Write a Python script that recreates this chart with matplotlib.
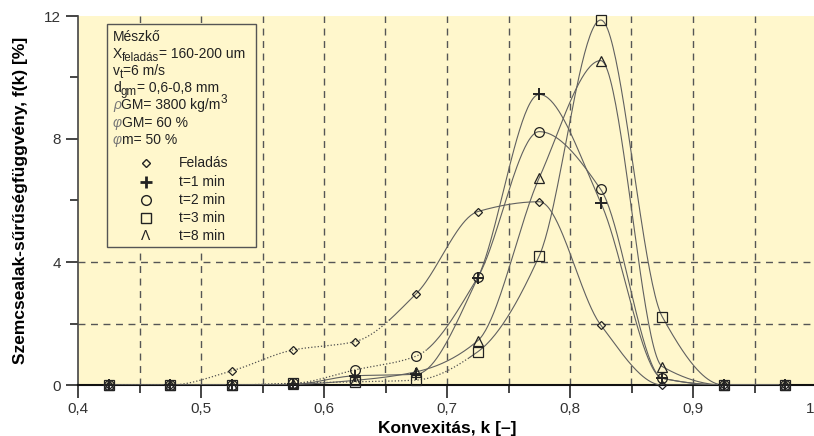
import numpy as np
import matplotlib
matplotlib.use("Agg")
import matplotlib.pyplot as plt
from matplotlib.patches import Rectangle
from matplotlib.ticker import MultipleLocator, FuncFormatter

plt.rcParams['font.family'] = ['Liberation Sans', 'DejaVu Sans']

# convexity class centres
k = [0.425, 0.475, 0.525, 0.575, 0.625, 0.675, 0.725, 0.775, 0.825, 0.875, 0.925, 0.975]

feladas = [0.0, 0.0, 0.46, 1.14, 1.41, 2.97, 5.64, 5.96, 1.95, 0.0, 0.0, 0.0]
t1 = [0.0, 0.0, 0.0, 0.02, 0.3, 0.35, 3.48, 9.45, 5.93, 0.22, 0.0, 0.0]
t2 = [0.0, 0.0, 0.0, 0.05, 0.49, 0.94, 3.5, 8.24, 6.36, 0.22, 0.0, 0.0]
t3 = [0.0, 0.0, 0.0, 0.06, 0.1, 0.16, 1.08, 4.2, 11.87, 2.22, 0.0, 0.0]
t8 = [0.0, 0.0, 0.0, 0.02, 0.15, 0.43, 1.44, 6.74, 10.55, 0.6, 0.0, 0.0]

# (values, marker, size, label, curve drawn dotted left of this k)
series = [
    (feladas, 'D', 4.5, 'Feladás', 0.655),
    (t1, '+', 8, 't=1 min', None),
    (t2, 'o', 7, 't=2 min', 0.685),
    (t3, 's', 7, 't=3 min', 0.72),
    (t8, '^', 7, 't=8 min', None),
]

# info rows: list of (text, kind) pieces; kind: n=normal, sub, sup, g=greek
info = [
    [('Mészkő', 'n')],
    [('X', 'n'), ('feladás', 'sub'), ('= 160-200 um', 'n')],
    [('v', 'n'), ('t', 'sub'), ('=6 m/s', 'n')],
    [('d', 'n'), ('gm', 'sub'), ('= 0,6-0,8 mm', 'n')],
    [('ρ', 'g'), ('GM= 3800 kg/m', 'n'), ('3', 'sup')],
    [('φ', 'g'), ('GM= 60 %', 'n')],
    [('φ', 'g'), ('m= 50 %', 'n')],
]


def smooth(x, y, num=500):
    # monotone cubic (Fritsch-Carlson) curve through the measured points
    x = np.asarray(x, float)
    y = np.asarray(y, float)
    n = len(x)
    h = np.diff(x)
    d = np.diff(y) / h
    m = np.zeros(n)
    for i in range(1, n - 1):
        if d[i - 1] * d[i] > 0:
            m[i] = 2 / (1 / d[i - 1] + 1 / d[i])
    m[0], m[-1] = d[0], d[-1]
    xs = np.linspace(x[0], x[-1], num)
    j = np.clip(np.searchsorted(x, xs) - 1, 0, n - 2)
    hh = h[j]
    t = (xs - x[j]) / hh
    h00 = 2 * t**3 - 3 * t**2 + 1
    h10 = t**3 - 2 * t**2 + t
    h01 = -2 * t**3 + 3 * t**2
    h11 = t**3 - t**2
    ys = h00 * y[j] + h10 * hh * m[j] + h01 * y[j + 1] + h11 * hh * m[j + 1]
    return xs, ys


bg = '#fff7cc'
W, H = 814, 436
fig = plt.figure(figsize=(W / 100, H / 100), dpi=100)
ax = fig.add_axes([78 / W, 51 / H, 738 / W, 369 / H])
ax.set_facecolor(bg)

ax.set_xlim(0.4, 1.0)
ax.set_ylim(0, 12)

for v in np.arange(0.45, 0.96, 0.05):
    ax.axvline(v, color='#555555', lw=1, ls=(0, (5, 4)), zorder=1)
for v in [2, 4]:
    ax.axhline(v, color='#555555', lw=1, ls=(0, (5, 4)), zorder=1)

for vals, mk, ms, lab, dot_to in series:
    xs, ys = smooth(k, vals)
    if dot_to is None:
        ax.plot(xs, ys, color='#606060', lw=0.8, zorder=3)
    else:
        left = xs <= dot_to
        right = xs >= dot_to - 0.002
        ax.plot(xs[left], ys[left], color='#505050', lw=0.9, ls=(0, (1, 1.6)), zorder=3)
        ax.plot(xs[right], ys[right], color='#606060', lw=0.8, zorder=3)
    ax.plot(k, vals, ls='none', marker=mk, ms=ms, mfc='none', mec='#222222',
            mew=1.4 if mk == '+' else 0.9, zorder=4, clip_on=False)

ax.xaxis.set_major_locator(MultipleLocator(0.1))
ax.xaxis.set_minor_locator(MultipleLocator(0.05))
ax.yaxis.set_major_locator(MultipleLocator(4))
ax.yaxis.set_minor_locator(MultipleLocator(2))
ax.xaxis.set_major_formatter(FuncFormatter(lambda v, p: f'{v:.1f}'.replace('.', ',')))
ax.yaxis.set_major_formatter(FuncFormatter(lambda v, p: f'{v:.0f}'))
ax.tick_params(which='major', length=9, width=1.4, color='#444444',
               labelsize=11, labelcolor='#333333', pad=3)
ax.tick_params(which='minor', length=6, width=1.4, color='#444444')

for s in ['top', 'right']:
    ax.spines[s].set_visible(False)
ax.spines['left'].set_color('#444444')
ax.spines['left'].set_linewidth(1.2)
ax.spines['bottom'].set_color('#111111')
ax.spines['bottom'].set_linewidth(1.5)

ax.set_xlabel('Konvexitás, k [–]', fontsize=12.5, fontweight='bold', labelpad=4)
ax.set_ylabel('Szemcsealak-sűrűségfüggvény, f(k) [%]', fontsize=12.5,
              fontweight='bold', labelpad=12)


def px(x, y):
    return ((x - 78) / 738, (385 - y) / 369)


box_x0, box_y0 = px(107, 247)
box_x1, box_y1 = px(256, 24)
ax.add_patch(Rectangle((box_x0, box_y0), box_x1 - box_x0, box_y1 - box_y0,
                       transform=ax.transAxes, facecolor=bg, edgecolor='#555555',
                       lw=1, zorder=5))

renderer = fig.canvas.get_renderer()
fs = 10
rows_base = [41, 58, 75, 92, 109, 127, 144]
for pieces, yb in zip(info, rows_base):
    x = 113
    for s, kind in pieces:
        size, dy, col, sty = fs, 0, '#222222', 'normal'
        if kind == 'sub':
            size, dy = 8.3, 3
        elif kind == 'sup':
            size, dy = 8.5, -6
        elif kind == 'g':
            col, sty = '#777777', 'italic'
        t = fig.text(x / W, 1 - (yb + dy) / H, s, fontsize=size, color=col,
                     style=sty, va='baseline', ha='left', zorder=6)
        x += t.get_window_extent(renderer=renderer).width

leg_y = [163, 182, 200, 218, 236]
for (vals, mk, ms, lab, _), yy in zip(series, leg_y):
    if mk == '^':
        ax.text(*px(146, yy), 'Λ', transform=ax.transAxes, fontsize=10,
                color='#222222', va='center', ha='center', zorder=6)
    else:
        ax.plot(*px(146, yy), transform=ax.transAxes, ls='none', marker=mk,
                ms=ms, mfc='none', mec='#222222',
                mew=2 if mk == '+' else 1.0, zorder=6, clip_on=False)
    ax.text(*px(179, yy), lab, transform=ax.transAxes, fontsize=10,
            color='#222222', va='center', ha='left', zorder=6)

fig.savefig('out.png', dpi=100)
